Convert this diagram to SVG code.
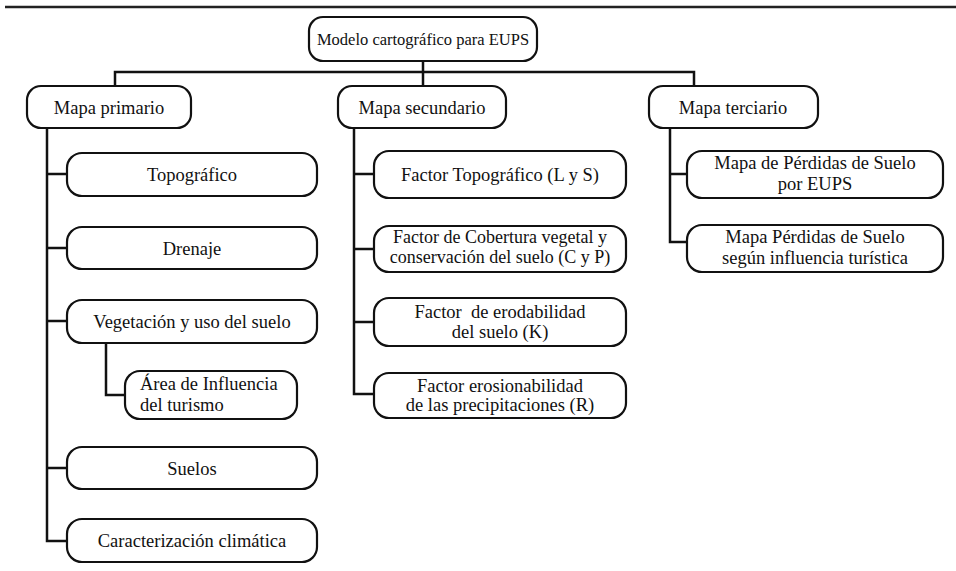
<svg xmlns="http://www.w3.org/2000/svg" width="956" height="571" viewBox="0 0 956 571">
<style>
.b{fill:#fff;stroke:#111;stroke-width:2.2}
.t{font-family:"Liberation Serif","Times New Roman",serif;font-size:18.5px;fill:#111;text-anchor:middle}
.l{text-anchor:start}
.r{font-size:16.5px}
.s{font-size:18px}
.c{fill:none;stroke:#111;stroke-width:2.5}
</style>
<rect width="956" height="571" fill="#fff"/>
<line x1="5" y1="7" x2="956" y2="7" stroke="#222" stroke-width="2.5"/>
<g id="connectors">
<path class="c" d="M423 61V72M115 86V72H694V86M423 72V86"/>
<path class="c" d="M47 128V541H67M47 174H67M47 248H67M47 321H67M47 468H67"/>
<path class="c" d="M106 343V395H125"/>
<path class="c" d="M354 128V394H374M354 174H374M354 249H374M354 322H374"/>
<path class="c" d="M670 128V242H687M670 174H687"/>
</g>
<g id="root"><rect class="b" x="309" y="17" width="228" height="44" rx="14"/><text class="t r" x="423" y="45">Modelo cartográfico para EUPS</text></g>
<g id="primario"><rect class="b" x="27" y="86" width="164" height="42" rx="14"/><text class="t" x="109" y="114">Mapa primario</text></g>
<g id="secundario"><rect class="b" x="338" y="86" width="168" height="42" rx="14"/><text class="t" x="422" y="114">Mapa secundario</text></g>
<g id="terciario"><rect class="b" x="649" y="86" width="169" height="42" rx="14"/><text class="t" x="733" y="114">Mapa terciario</text></g>
<g id="topografico"><rect class="b" x="67" y="153" width="250" height="43" rx="15"/><text class="t" x="192" y="181">Topográfico</text></g>
<g id="drenaje"><rect class="b" x="67" y="227" width="250" height="42" rx="15"/><text class="t" x="192" y="255">Drenaje</text></g>
<g id="vegetacion"><rect class="b" x="67" y="300" width="250" height="43" rx="15"/><text class="t" x="192" y="328">Vegetación y uso del suelo</text></g>
<g id="area"><rect class="b" x="125" y="371" width="172" height="48" rx="15"/><text class="t l" x="140" y="390">Área de Influencia</text><text class="t l" x="140" y="411">del turismo</text></g>
<g id="suelos"><rect class="b" x="67" y="447" width="250" height="42" rx="15"/><text class="t" x="192" y="475">Suelos</text></g>
<g id="clima"><rect class="b" x="67" y="519" width="250" height="43" rx="15"/><text class="t" x="192" y="547">Caracterización climática</text></g>
<g id="factorLS"><rect class="b" x="374" y="151" width="252" height="47" rx="15"/><text class="t" x="500" y="181">Factor Topográfico (L y S)</text></g>
<g id="factorCP"><rect class="b" x="374" y="226" width="252" height="46" rx="15"/><text class="t s" x="500" y="243">Factor de Cobertura vegetal y</text><text class="t s" x="500" y="263">conservación del suelo (C y P)</text></g>
<g id="factorK"><rect class="b" x="374" y="298" width="252" height="48" rx="15"/><text class="t" x="500" y="318" xml:space="preserve">Factor  de erodabilidad</text><text class="t" x="500" y="338">del suelo (K)</text></g>
<g id="factorR"><rect class="b" x="374" y="373" width="252" height="45" rx="15"/><text class="t" x="500" y="392">Factor erosionabilidad</text><text class="t" x="500" y="411">de las precipitaciones (R)</text></g>
<g id="perdidas"><rect class="b" x="687" y="151" width="256" height="47" rx="15"/><text class="t" x="815" y="169">Mapa de Pérdidas de Suelo</text><text class="t" x="815" y="190">por EUPS</text></g>
<g id="perdidasTur"><rect class="b" x="687" y="225" width="256" height="47" rx="15"/><text class="t" x="815" y="243">Mapa Pérdidas de Suelo</text><text class="t" x="815" y="264">según influencia turística</text></g>
</svg>
